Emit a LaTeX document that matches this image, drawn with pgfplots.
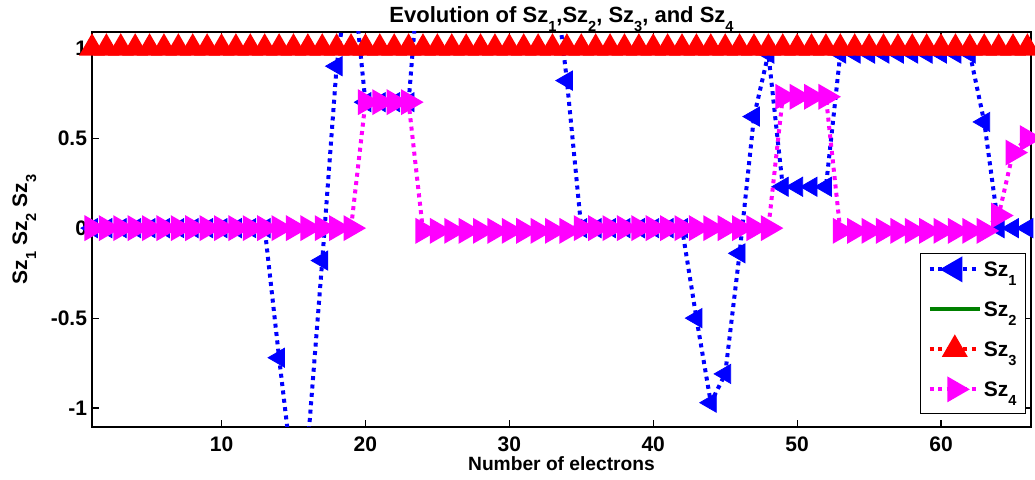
\documentclass[border=0pt]{standalone}
\usepackage{pgfplots}
\pgfplotsset{compat=1.18}
\usepackage{pgfplotstable}
\usepackage{fontspec}
\setmainfont{Liberation Sans}
\newcommand{\sub}[1]{\raisebox{-4.6pt}{\fontsize{7.3}{8}\selectfont\bfseries #1}}
\newcommand{\fs}{\fontsize{10.5}{12}\selectfont\bfseries}
\definecolor{mgreen}{rgb}{0,0.5,0}
\definecolor{mblue}{rgb}{0,0,1}
\definecolor{mred}{rgb}{1,0,0}
\definecolor{mmag}{rgb}{1,0,1}

\pgfplotstableread{
x s1 s2 s3 s4
1 0 1 1 0
2 0 1 1 0
3 0 1 1 0
4 0 1 1 0
5 0 1 1 0
6 0 1 1 0
7 0 1 1 0
8 0 1 1 0
9 0 1 1 0
10 0 1 1 0
11 0 1 1 0
12 0 1 1 0
13 0 1 1 0
14 -0.72 1 1 0
15 -1.4 1 1 0
16 -1.2 1 1 0
17 -0.18 1 1 0
18 0.9 1 1 0
19 1.5 1 1 0
20 0.7 1 1 0.7
21 0.7 1 1 0.7
22 0.7 1 1 0.7
23 0.7 1 1 0.7
24 1.7 1 1 -0.015
25 1.6 1 1 -0.015
26 1.6 1 1 -0.015
27 1.6 1 1 -0.015
28 1.6 1 1 -0.015
29 1.6 1 1 -0.015
30 1.6 1 1 -0.015
31 1.6 1 1 -0.015
32 1.6 1 1 -0.015
33 1.5 1 1 -0.015
34 0.82 1 1 -0.015
35 0 1 1 0
36 0 1 1 0
37 0 1 1 0
38 0 1 1 0
39 0 1 1 0
40 0 1 1 0
41 0 1 1 0
42 0 1 1 0
43 -0.5 1 1 0
44 -0.97 1 1 0
45 -0.81 1 1 0
46 -0.14 1 1 0
47 0.62 1 1 0
48 0.97 1 1 0
49 0.23 1 1 0.73
50 0.23 1 1 0.73
51 0.23 1 1 0.73
52 0.23 1 1 0.73
53 0.97 1 1 -0.015
54 0.97 1 1 -0.015
55 0.97 1 1 -0.015
56 0.97 1 1 -0.015
57 0.97 1 1 -0.015
58 0.97 1 1 -0.015
59 0.97 1 1 -0.015
60 0.97 1 1 -0.015
61 0.97 1 1 -0.015
62 0.97 1 1 -0.015
63 0.59 1 1 -0.015
64 0 1 1 0.07
65 0 1 1 0.42
66 0 1 1 0.5
}\data

\begin{document}
\begin{tikzpicture}
\begin{axis}[
  scale only axis, width=469.5pt, height=197.5pt,
  xmin=1, xmax=66.25, ymin=-1.105, ymax=1.09,
  xtick={10,20,30,40,50,60}, ytick={-1,-0.5,0,0.5,1},
  tick align=inside, major tick length=3.5pt,
  every tick/.style={black, line width=0.6pt},
  axis line style={black, line width=0.7pt},
  /pgf/number format/assume math mode=true,
  ticklabel style={font=\fs},
  xticklabel style={anchor=base, yshift=-12.4pt},
  yticklabel style={anchor=east, inner sep=0pt, xshift=-2.3pt},
  clip mode=individual,
  every axis title shift=0pt,
  title={Evolution of Sz\sub{1},Sz\sub{2}, Sz\sub{3}, and Sz\sub{4}},
  title style={at={(axis description cs:0.5,1.0235)}, anchor=base, yshift=0pt, font=\fontsize{11}{13}\selectfont\bfseries},
  xlabel={Number of electrons},
  every axis x label/.style={at={(axis description cs:0.5,-0.111)}, anchor=base, font=\fontsize{9.6}{11}\selectfont\bfseries},
  ylabel={Sz\sub{1} Sz\sub{2} Sz\sub{3}},
  every axis y label/.style={at={(axis description cs:-0.0692,0.5)}, rotate=90, anchor=base, font=\fs},
  legend style={at={(rel axis cs:0.9947,0.033)}, anchor=south east, draw=black, line width=0.6pt, fill=white,
    font=\fs, inner xsep=3.5pt, inner ysep=2.5pt, row sep=5pt,
    nodes={inner sep=1pt, text height=8pt, text depth=5pt}},
  legend cell align=left,
  legend image code/.code={\draw[mark repeat=2,mark phase=2,#1] plot coordinates {(0pt,2pt) (12.5pt,2pt) (25pt,2pt)};},
]
% Sz1
\addplot[mblue, line width=2pt, dash pattern=on 2pt off 2.2pt, forget plot] table[x=x,y=s1] {\data};
\addplot[mblue, only marks, mark=triangle*, mark size=5.5pt, mark options={solid, rotate=90}, restrict y to domain=-1.1:1.1, forget plot] table[x=x,y=s1] {\data};
% Sz2
\addplot[mgreen, line width=2pt, forget plot] table[x=x,y=s2] {\data};
% Sz3
\addplot[mred, line width=2pt, dash pattern=on 2pt off 2.2pt, mark=triangle*, mark size=5.5pt, mark options={solid}, forget plot] table[x=x,y=s3] {\data};
% Sz4
\addplot[mmag, line width=2pt, dash pattern=on 2pt off 2.2pt, mark=triangle*, mark size=5.5pt, mark options={solid, rotate=-90}, forget plot] table[x=x,y=s4] {\data};

\addlegendimage{mblue, line width=2pt, dash pattern=on 2pt off 2.2pt, mark=triangle*, mark size=5.5pt, mark options={solid, rotate=90}}
\addlegendentry{Sz\sub{1}}
\addlegendimage{mgreen, line width=2pt}
\addlegendentry{Sz\sub{2}}
\addlegendimage{mred, line width=2pt, dash pattern=on 2pt off 2.2pt, mark=triangle*, mark size=5.5pt, mark options={solid}}
\addlegendentry{Sz\sub{3}}
\addlegendimage{mmag, line width=2pt, dash pattern=on 2pt off 2.2pt, mark=triangle*, mark size=5.5pt, mark options={solid, rotate=-90}}
\addlegendentry{Sz\sub{4}}

\coordinate (SW) at (rel axis cs:0,0);
\coordinate (NE) at (rel axis cs:1,1);
\end{axis}
\pgfresetboundingbox
\path[use as bounding box] ([xshift=-46pt,yshift=-26.5pt]SW) rectangle ([xshift=2pt,yshift=16pt]NE);
\end{tikzpicture}
\end{document}
